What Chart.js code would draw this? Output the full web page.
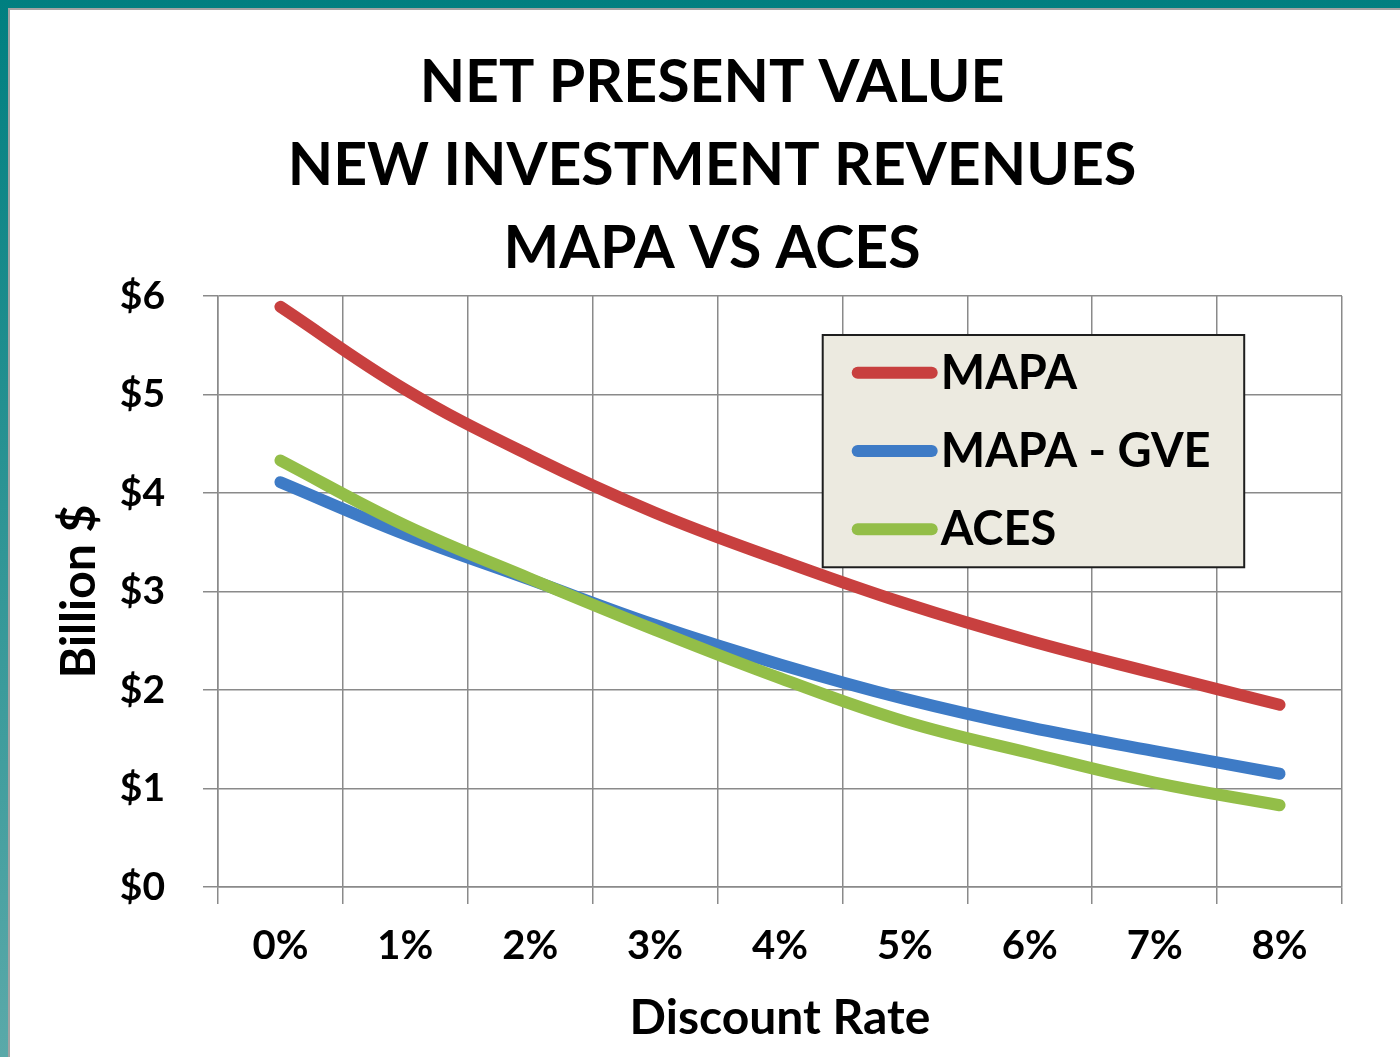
<!DOCTYPE html>
<html>
<head>
<meta charset="utf-8">
<script src="https://cdn.jsdelivr.net/npm/chart.js@4.4.1/dist/chart.umd.min.js"></script>
<style>
  html, body { margin: 0; padding: 0; background: #ffffff; }
  #frame { position: absolute; left: 0; top: 0; width: 1400px; height: 1057px;
           background: linear-gradient(180deg, #007f80 0%, #2f9595 50%, #5aa9a9 100%); }
  #paper { position: absolute; left: 8px; top: 8px; right: 0; bottom: 0;
           background: #ffffff; border-left: 2px solid #a3a3a3; border-top: 2px solid #a3a3a3; }
  #wrap { position: absolute; left: 0; top: 0; width: 1400px; height: 1057px; }
</style>
</head>
<body>
<div id="frame"></div>
<div id="paper"></div>
<div id="wrap"><canvas id="c" width="1400" height="1057"></canvas></div>
<script>
// ---- data ----
const categories = ['0%', '1%', '2%', '3%', '4%', '5%', '6%', '7%', '8%'];
const mapa      = [5.89, 5.05, 4.38, 3.80, 3.32, 2.88, 2.50, 2.17, 1.85];
const mapaGve   = [4.11, 3.58, 3.12, 2.66, 2.26, 1.91, 1.62, 1.38, 1.15];
const aces      = [4.33, 3.67, 3.13, 2.61, 2.12, 1.68, 1.36, 1.06, 0.83];
const seriesNames = ['MAPA', 'MAPA - GVE', 'ACES'];
const yTickValues = [0, 1, 2, 3, 4, 5, 6];
const titleLines = ['NET PRESENT VALUE', 'NEW INVESTMENT REVENUES', 'MAPA VS ACES'];
const xTitle = 'Discount Rate';
const yTitle = 'Billion $';

const FONT = 'Lato';
const GRID = '#8a8a8a';
const colors = ['#C8403F', '#3E7BC6', '#93BE48'];

const boxLegend = {
  id: 'boxLegend',
  afterDatasetsDraw(chart) {
    const { ctx, chartArea: a } = chart;
    const x0 = a.left + a.width * 0.538, x1 = a.left + a.width * 0.913;
    const y0 = a.top + a.height * 0.066, y1 = a.top + a.height * 0.459;
    ctx.save();
    ctx.fillStyle = '#ECEAE0';
    ctx.fillRect(x0, y0, x1 - x0, y1 - y0);
    ctx.lineWidth = 2;
    ctx.strokeStyle = '#1e1e1e';
    ctx.strokeRect(x0, y0, x1 - x0, y1 - y0);
    const ds = chart.data.datasets;
    ds.forEach((d, i) => {
      const yy = y0 + (y1 - y0) * (0.162 + i * 0.337);
      ctx.beginPath();
      ctx.lineCap = 'round';
      ctx.lineWidth = 12;
      ctx.strokeStyle = d.borderColor;
      ctx.moveTo(x0 + 35, yy);
      ctx.lineTo(x0 + 109, yy);
      ctx.stroke();
      ctx.fillStyle = '#000';
      ctx.font = 'bold 47px ' + FONT;
      ctx.textBaseline = 'middle';
      ctx.textAlign = 'left';
      ctx.fillText(d.label, x0 + 118, yy + 1);
    });
    ctx.restore();
  }
};

const lineStyle = {
  borderWidth: 12, pointRadius: 0, pointHoverRadius: 0, tension: 0.4,
  borderCapStyle: 'round', borderJoinStyle: 'round', fill: false
};

new Chart(document.getElementById('c'), {
  type: 'line',
  data: {
    labels: categories,
    datasets: [
      Object.assign({ label: seriesNames[0], data: mapa, borderColor: colors[0], backgroundColor: colors[0], order: 2 }, lineStyle),
      Object.assign({ label: seriesNames[1], data: mapaGve, borderColor: colors[1], backgroundColor: colors[1], order: 1 }, lineStyle),
      Object.assign({ label: seriesNames[2], data: aces, borderColor: colors[2], backgroundColor: colors[2], order: 0 }, lineStyle)
    ]
  },
  plugins: [boxLegend],
  options: {
    responsive: false,
    animation: false,
    devicePixelRatio: 1,
    layout: { padding: { left: 82, right: 58, top: 0, bottom: 5 } },
    plugins: {
      legend: { display: false },
      tooltip: { enabled: false },
      title: {
        display: true,
        text: titleLines,
        color: '#000',
        font: { family: FONT, weight: 'bold', size: 59, lineHeight: '83px' },
        padding: { top: 41, bottom: 6 }
      }
    },
    scales: {
      x: {
        type: 'category',
        offset: true,
        grid: { offset: true, color: GRID, lineWidth: 1.5, tickLength: 17, drawTicks: true },
        border: { color: GRID, width: 1.5 },
        ticks: { color: '#000', font: { family: FONT, weight: 'bold', size: 40 }, padding: 18, maxRotation: 0 },
        title: { display: true, text: xTitle, color: '#000',
                 font: { family: FONT, weight: 'bold', size: 48, lineHeight: 1.2 },
                 padding: { top: 0, bottom: 5 } },
        afterFit(scale) { scale.height = 165; }
      },
      y: {
        min: 0, max: 6,
        afterBuildTicks(scale) { scale.ticks = yTickValues.map(v => ({ value: v })); },
        grid: { color: GRID, lineWidth: 1.5, tickLength: 15, drawTicks: true },
        border: { color: GRID, width: 1.5 },
        ticks: { color: '#000', font: { family: FONT, weight: 'bold', size: 39 }, padding: 38,
                 callback: v => '$' + v },
        title: { display: true, text: yTitle, color: '#000',
                 font: { family: FONT, weight: 'bold', size: 48, lineHeight: 1.2 },
                 padding: { top: -31, bottom: 0 } },
        afterFit(scale) { scale.width = 136; }
      }
    }
  }
});
</script>
</body>
</html>
